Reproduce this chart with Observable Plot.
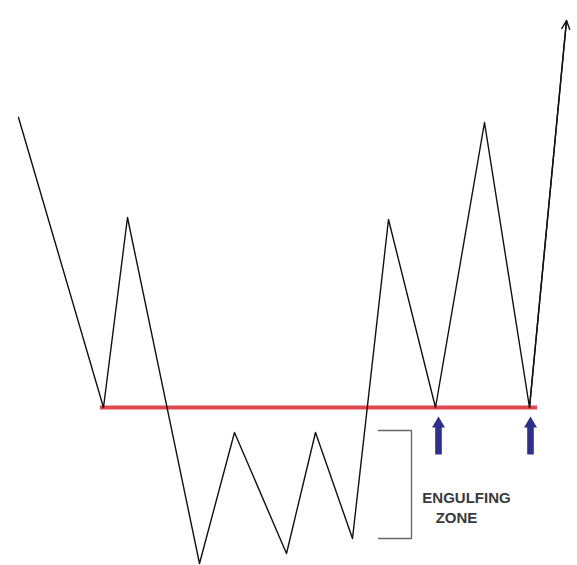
<!DOCTYPE html>
<html>
<head>
<meta charset="utf-8">
<script src="https://cdn.jsdelivr.net/npm/d3@7"></script>
<script src="https://cdn.jsdelivr.net/npm/@observablehq/plot@0.6"></script>
<style>
  html, body { margin: 0; padding: 0; background: #fff; }
  #chart svg { display: block; }
</style>
</head>
<body>
<div id="chart"></div>
<script>
// Zigzag price path (time, price)
const pathTime  = [18, 103, 127, 199, 234, 286, 315, 352, 388, 435, 484, 529, 566];
const pathPrice = [448, 158, 348, 2, 133, 12, 133, 27, 346, 158, 443, 158, 545];

// Support level (red line)
const supportPrice = 158;
const supportStart = 100;
const supportEnd = 537;

// Blue up-arrows (retest points)
const retestTime = [438, 530];
const retestPrice = [111, 111];

// Engulfing zone bracket
const zoneTime = [378, 411, 411, 378];
const zonePrice = [135, 135, 27, 27];

// Labels
const labelText = ["ENGULFING", "ZONE"];
const labelTime = [466, 456];
const labelPrice = [67.5, 47.5];

const path = pathTime.map((t, i) => ({t, p: pathPrice[i]}));
const zone = zoneTime.map((t, i) => ({t, p: zonePrice[i]}));
const retests = retestTime.map((t, i) => ({t, p: retestPrice[i]}));
const labels = labelText.map((s, i) => ({s, t: labelTime[i], p: labelPrice[i]}));
const n = path.length;
const lastSeg = [{x1: path[n - 2].t, y1: path[n - 2].p, x2: path[n - 1].t, y2: path[n - 1].p}];

const blockArrow = {
  draw(context, l) {
    const hw = 6.5, sw = 3.3, hl = 11;
    context.moveTo(0, -l);
    context.lineTo(hw, -l + hl);
    context.lineTo(sw, -l + hl);
    context.lineTo(sw, 0);
    context.lineTo(-sw, 0);
    context.lineTo(-sw, -l + hl);
    context.lineTo(-hw, -l + hl);
    context.closePath();
  }
};

const chart = Plot.plot({
  width: 577,
  height: 565,
  margin: 0,
  x: {domain: [0, 577], axis: null},
  y: {domain: [0, 565], axis: null},
  marks: [
    Plot.ruleY([supportPrice], {x1: supportStart, x2: supportEnd, stroke: "#e0464f", strokeWidth: 4}),
    Plot.line(path, {x: "t", y: "p", stroke: "#111", strokeWidth: 1.4}),
    Plot.arrow(lastSeg, {x1: "x1", y1: "y1", x2: "x2", y2: "y2", stroke: "#111", strokeWidth: 1.4, headLength: 10, headAngle: 50}),
    Plot.line(zone, {x: "t", y: "p", stroke: "#666", strokeWidth: 1.3}),
    Plot.vector(retests, {x: "t", y: "p", length: 38, anchor: "start", shape: blockArrow, fill: "#2f2f8c", stroke: "none"}),
    Plot.text(labels, {x: "t", y: "p", text: "s", fontSize: 15, fontWeight: "bold", fill: "#3a3a3a", fontFamily: "Liberation Sans, Arial, sans-serif", textAnchor: "middle"})
  ]
});
document.getElementById("chart").appendChild(chart);
</script>
</body>
</html>
